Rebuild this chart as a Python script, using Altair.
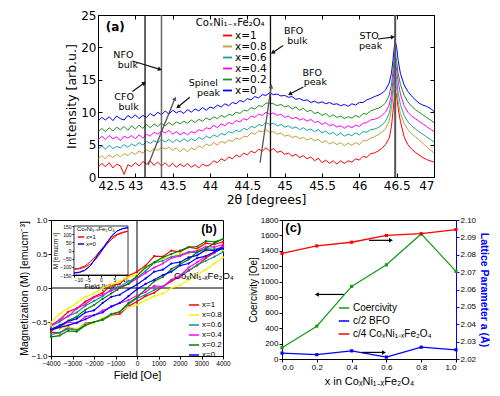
import math
import altair as alt
import pandas as pd

# ======================= panel (a): XRD =======================
SAMPLES = ["x=1", "x=0.8", "x=0.6", "x=0.4", "x=0.2", "x=0"]
XRD_COLORS = ["#ff0000", "#c49c3c", "#17a3a3", "#ff00ff", "#1f8f1f", "#0000ff"]

TWO_THETA = [round(42.5 + 0.05 * i, 2) for i in range(75)] + [
    46.25, 46.30, 46.35, 46.40, 46.43, 46.45, 46.47, 46.48, 46.50, 46.52,
    46.55, 46.60, 46.65, 46.70, 46.75, 46.80, 46.85, 46.90, 46.95, 47.00]

I_X1 = [1.5, 2.1, 1.6, 2.2, 1.4, 2.0, 1.7, 0.4, 1.9, 1.6,
        2.2, 1.7, 2.4, 2.0, 2.5, 1.8, 2.3, 1.7, 2.2, 1.6,
        2.1, 1.5, 2.0, 1.6, 2.1, 1.5, 1.9, 1.4, 2.0, 1.7,
        1.9, 2.5, 2.2, 2.8, 2.5, 3.1, 2.8, 3.4, 3.1, 3.7,
        3.4, 4.0, 3.7, 4.3, 4.0, 4.5, 4.0, 4.4, 3.8, 4.0,
        3.5, 3.7, 3.2, 3.5, 3.0, 3.3, 2.8, 3.1, 2.5, 2.9,
        2.2, 2.6, 2.1, 2.5, 2.0, 2.5, 2.1, 2.5, 2.3, 2.8,
        2.6, 3.2, 3.0, 3.6, 3.7,
        4.0, 4.4, 5.0, 6.0, 7.8, 10.0, 12.3, 13.2, 12.6, 10.6,
        8.6, 6.2, 5.0, 4.3, 3.8, 3.4, 3.0, 2.7, 2.5, 2.3]
I_X08 = [2.7, 3.3, 2.8, 3.4, 3.0, 3.5, 3.1, 3.6, 3.3, 3.8,
         3.5, 4.0, 3.7, 4.2, 3.9, 4.4, 4.1, 4.6, 4.3, 4.6,
         4.1, 4.5, 3.9, 4.4, 3.9, 4.5, 4.2, 4.8, 4.5, 5.1,
         4.8, 5.3, 4.9, 5.5, 5.2, 5.7, 5.5, 6.0, 5.8, 6.3,
         6.2, 6.8, 6.6, 7.1, 7.0, 7.3, 6.9, 7.0, 6.6, 6.8,
         6.3, 6.5, 6.1, 6.3, 5.9, 6.1, 5.7, 6.0, 5.6, 5.8,
         5.3, 5.6, 5.1, 5.4, 5.0, 5.3, 4.8, 5.2, 4.9, 5.3,
         5.0, 5.6, 5.6, 6.0, 6.2,
         6.5, 6.9, 7.4, 8.6, 10.4, 12.4, 14.6, 15.2, 13.6, 11.6,
         9.8, 8.3, 7.3, 6.7, 6.2, 5.7, 5.2, 4.7, 4.2, 3.7]
I_X06 = [4.2, 4.8, 4.3, 4.9, 4.4, 4.7, 4.5, 5.0, 4.6, 5.1,
         4.8, 5.3, 4.9, 5.5, 5.2, 5.6, 5.3, 5.8, 5.4, 5.8,
         5.3, 5.8, 5.4, 5.9, 5.5, 5.9, 5.6, 6.1, 5.8, 6.3,
         6.0, 6.5, 6.2, 6.7, 6.5, 7.0, 6.8, 7.2, 7.0, 7.5,
         7.3, 7.8, 7.6, 8.1, 7.9, 8.4, 8.1, 8.3, 7.9, 8.1,
         7.7, 7.9, 7.5, 7.7, 7.3, 7.6, 7.2, 7.4, 7.0, 7.3,
         6.8, 7.1, 6.6, 6.9, 6.4, 6.8, 6.3, 6.6, 6.4, 6.8,
         6.5, 7.0, 6.9, 7.3, 7.4,
         7.6, 8.0, 8.6, 9.8, 11.6, 13.5, 15.9, 16.5, 15.0, 13.0,
         11.2, 9.5, 8.5, 7.9, 7.4, 7.0, 6.6, 6.2, 5.8, 5.4]
I_X04 = [5.7, 6.3, 5.8, 6.4, 5.9, 6.2, 5.6, 6.3, 6.0, 6.4,
         5.9, 6.5, 6.0, 6.6, 6.3, 6.9, 6.6, 7.1, 6.8, 7.2,
         6.6, 7.0, 6.5, 6.9, 6.5, 7.0, 6.8, 7.3, 7.1, 7.6,
         7.4, 8.0, 7.6, 8.2, 7.9, 8.4, 8.2, 8.7, 8.5, 9.0,
         8.8, 9.4, 9.2, 9.7, 9.5, 10.0, 9.7, 9.9, 9.5, 9.7,
         9.2, 9.4, 9.0, 9.2, 8.8, 9.0, 8.6, 8.9, 8.4, 8.6,
         8.1, 8.4, 7.9, 8.1, 7.7, 7.9, 7.5, 7.9, 7.6, 8.0,
         7.8, 8.3, 8.4, 8.8, 8.9,
         9.1, 9.5, 10.0, 11.1, 12.8, 14.8, 17.2, 17.8, 16.5, 14.8,
         12.8, 11.0, 10.0, 9.4, 9.0, 8.6, 8.2, 7.8, 7.4, 7.0]
I_X02 = [6.9, 7.5, 7.0, 7.6, 7.1, 7.7, 7.3, 7.8, 7.2, 7.9,
         7.4, 8.0, 7.5, 8.1, 7.6, 8.2, 7.8, 8.3, 7.9, 8.4,
         8.0, 8.5, 8.2, 8.6, 8.3, 8.8, 8.4, 8.9, 8.6, 9.1,
         8.8, 9.3, 9.0, 9.5, 9.2, 9.7, 9.5, 10.0, 9.8, 10.3,
         10.2, 10.7, 10.5, 11.0, 10.9, 11.4, 11.4, 11.3, 11.0, 11.2,
         10.8, 11.0, 10.5, 10.8, 10.3, 10.6, 10.1, 10.3, 9.8, 10.0,
         9.5, 9.8, 9.3, 9.6, 9.2, 9.4, 9.0, 9.3, 9.1, 9.5,
         9.2, 9.8, 9.7, 10.2, 10.4,
         10.6, 10.9, 11.4, 12.6, 14.2, 16.2, 18.6, 19.0, 17.8, 16.0,
         14.3, 12.6, 11.6, 10.9, 10.4, 10.0, 9.6, 9.2, 8.8, 8.4]
I_X0 = [8.6, 9.2, 8.8, 9.3, 8.7, 9.4, 9.0, 8.8, 9.5, 9.1,
        9.6, 9.0, 9.5, 9.2, 9.8, 9.4, 10.0, 9.6, 10.2, 9.7,
        10.3, 9.9, 10.2, 9.8, 10.4, 10.0, 10.5, 10.2, 10.7, 10.3,
        10.8, 10.6, 11.1, 10.8, 11.3, 11.0, 11.5, 11.3, 11.8, 11.6,
        12.1, 11.9, 12.4, 12.2, 12.7, 12.6, 13.0, 12.7, 12.8, 12.5,
        12.6, 12.3, 12.4, 12.0, 12.1, 11.8, 11.9, 11.5, 11.7, 11.4,
        11.6, 11.3, 11.5, 11.2, 11.3, 11.0, 11.2, 10.9, 11.3, 11.1,
        11.5, 11.5, 11.9, 12.1, 12.4,
        12.6, 12.9, 13.4, 14.5, 16.0, 18.0, 20.2, 21.0, 20.0, 18.0,
        16.0, 14.2, 13.2, 12.5, 11.9, 11.4, 11.1, 10.9, 10.6, 10.1]
XRD = [I_X1, I_X08, I_X06, I_X04, I_X02, I_X0]
for s in XRD:
    assert len(s) == len(TWO_THETA)

XA_TICKS = [42.5, 43, 43.5, 44, 44.5, 45, 45.5, 46, 46.5, 47]
YA_TICKS = [0, 5, 10, 15, 20, 25]
XA_DOMAIN = [42.5, 47]
YA_DOMAIN = [0, 25]

VLINE_DARK = [43.13, 44.81]
VLINE_GRAY = [43.35]
VLINE_STO = [46.48]

ARR_A_X1 = [42.96, 42.96, 43.73, 44.98, 45.25, 46.25]
ARR_A_Y1 = [17.9, 13.2, 12.3, 20.3, 13.9, 21.3]
ARR_A_X2 = [43.33, 43.12, 43.57, 44.84, 45.07, 46.45]
ARR_A_Y2 = [16.6, 14.5, 10.8, 19.2, 12.8, 21.6]
SHIFT_X1 = [43.17, 44.67]
SHIFT_Y1 = [1.8, 2.2]
SHIFT_X2 = [43.53, 44.82]
SHIFT_Y2 = [12.1, 14.0]

TEXT_A = ["NFO", "bulk", "CFO", "bulk", "Spinel", "peak", "BFO", "bulk", "BFO", "peak", "STO", "peak"]
TEXT_A_X = [42.84, 42.90, 42.85, 42.91, 43.91, 43.98, 45.12, 45.17, 45.37, 45.41, 46.13, 46.15]
TEXT_A_Y = [18.9, 17.3, 12.4, 10.8, 14.45, 12.97, 22.5, 21.0, 16.07, 14.6, 21.75, 20.27]

FORMULA = "CoₓNi₁₋ₓFe₂O₄"

# ======================= panel (b): M-H loops =======================
FIELD_UP = [4000 - 400 * i for i in range(21)]
FIELD_LOW = [-4000 + 400 * i for i in range(21)]
MAG_COLORS = ["#ff0000", "#f2f200", "#0f8f8f", "#ff00ff", "#008000", "#0000ff"]
M_UPPER = [
    [0.68, 0.64, 0.66, 0.58, 0.60, 0.53, 0.55, 0.46, 0.47, 0.33, 0.24, 0.18, 0.06, 0.04, -0.07, -0.13, -0.20, -0.30, -0.35, -0.47, -0.55],
    [0.55, 0.58, 0.53, 0.56, 0.50, 0.51, 0.45, 0.44, 0.36, 0.30, 0.20, 0.16, 0.10, 0.05, 0.00, -0.08, -0.13, -0.22, -0.30, -0.38, -0.50],
    [0.60, 0.57, 0.58, 0.52, 0.53, 0.48, 0.46, 0.40, 0.37, 0.25, 0.15, 0.10, 0.02, -0.02, -0.12, -0.19, -0.26, -0.36, -0.41, -0.50, -0.56],
    [0.64, 0.60, 0.61, 0.55, 0.52, 0.47, 0.44, 0.36, 0.30, 0.22, 0.14, 0.06, 0.01, -0.04, -0.10, -0.14, -0.24, -0.30, -0.42, -0.47, -0.55],
    [0.72, 0.68, 0.69, 0.61, 0.60, 0.55, 0.50, 0.45, 0.38, 0.30, 0.18, 0.06, 0.00, -0.08, -0.16, -0.25, -0.32, -0.42, -0.48, -0.57, -0.63],
    [0.60, 0.55, 0.56, 0.48, 0.45, 0.38, 0.36, 0.27, 0.24, 0.14, 0.05, -0.02, -0.10, -0.13, -0.22, -0.33, -0.36, -0.45, -0.49, -0.55, -0.61],
]
M_LOWER = [
    [-0.65, -0.66, -0.58, -0.61, -0.52, -0.50, -0.47, -0.40, -0.38, -0.27, -0.20, -0.12, -0.07, 0.02, 0.10, 0.17, 0.26, 0.33, 0.44, 0.52, 0.62],
    [-0.55, -0.60, -0.57, -0.60, -0.53, -0.52, -0.44, -0.40, -0.35, -0.28, -0.25, -0.18, -0.12, -0.08, 0.00, 0.04, 0.12, 0.20, 0.27, 0.36, 0.45],
    [-0.68, -0.66, -0.60, -0.62, -0.54, -0.50, -0.47, -0.38, -0.35, -0.24, -0.15, -0.10, -0.03, 0.02, 0.12, 0.18, 0.25, 0.34, 0.40, 0.46, 0.53],
    [-0.60, -0.57, -0.50, -0.52, -0.42, -0.40, -0.33, -0.28, -0.22, -0.18, -0.11, -0.06, 0.03, 0.02, 0.12, 0.18, 0.30, 0.38, 0.47, 0.52, 0.60],
    [-0.72, -0.70, -0.63, -0.64, -0.55, -0.50, -0.46, -0.39, -0.35, -0.22, -0.14, -0.02, 0.10, 0.16, 0.28, 0.35, 0.42, 0.53, 0.58, 0.66, 0.72],
    [-0.61, -0.58, -0.55, -0.51, -0.46, -0.40, -0.36, -0.27, -0.22, -0.12, -0.02, 0.06, 0.12, 0.19, 0.24, 0.33, 0.36, 0.44, 0.47, 0.53, 0.58],
]
XB_TICKS = [-4000, -3000, -2000, -1000, 0, 1000, 2000, 3000, 4000]
YB_TICKS = [-1.0, -0.5, 0.0, 0.5, 1.0]
XB_DOMAIN = [-4000, 4000]
YB_DOMAIN = [-1.0, 1.0]
ZERO = [0]

INSET_SAMPLES = ["x=1", "x=0"]
INSET_COLORS = ["#ff0000", "#0000ff"]
INSET_H_UP = [10, 8, 6, 4, 2, 1, 0, -1, -2, -4, -6, -8, -10]
INSET_H_LOW = [-10, -8, -6, -4, -2, -1, 0, 1, 2, 4, 6, 8, 10]
INSET_UP = [[118, 112, 100, 80, 45, 22, 5, -15, -35, -70, -95, -108, -115],
            [140, 135, 120, 90, 40, 15, -5, -25, -50, -95, -120, -132, -138]]
INSET_LOW = [[-115, -112, -102, -85, -55, -35, -10, 15, 35, 70, 95, 108, 118],
             [-138, -135, -122, -95, -45, -20, 2, 22, 45, 90, 120, 132, 140]]
INSET_XDOM = [-10, 10]
INSET_YDOM = [-150, 150]
INSET_XTICKS = [-10, -5, 0, 5, 10]
INSET_YTICKS = [-150, -100, -50, 0, 50, 100, 150]

# ======================= panel (c) =======================
X_COMP = [0.0, 0.2, 0.4, 0.6, 0.8, 1.0]
COERCIVITY = [145, 425, 940, 1220, 1620, 1135]
C2_BFO = [2.0234, 2.0225, 2.0247, 2.0211, 2.0268, 2.0253]
C4_CNFO = [2.0808, 2.0851, 2.0872, 2.0911, 2.0921, 2.0945]
C_SERIES = ["Coercivity", "c/2 BFO", "c/4 " + FORMULA]
C_COLORS = ["#1a9a1a", "#0000ff", "#ff0000"]
XC_TICKS = [0.0, 0.2, 0.4, 0.6, 0.8, 1.0]
YC_TICKS = [0, 200, 400, 600, 800, 1000, 1200, 1400, 1600, 1800]
YR_TICKS = [2.02, 2.03, 2.04, 2.05, 2.06, 2.07, 2.08, 2.09, 2.10]
ARR_CL_X1, ARR_CL_X2, ARR_CL_Y = [0.355], [0.20], [836]
ARR_CR_X1 = [0.50, 0.46]
ARR_CR_X2 = [0.626, 0.586]
ARR_CR_Y = [2.0883, 2.0238]

# ======================= layout sizes =======================
W_A, H_A = 336, 162
W_B, H_B = 172, 136
W_C, H_C = 174, 139
SPACER_W = 47

FA = "DejaVu Sans"
FB = "Liberation Sans"
INWARD = {"expr": "-4"}


def head_angle(x1, y1, x2, y2, sx, sy):
    dx = (x2 - x1) * sx
    dy = (y2 - y1) * sy
    return math.degrees(math.atan2(dx, dy)) % 360


def text_layer(xs_list, ys_list, texts, xs, ys, ax=None, ay=None, **kw):
    return alt.Chart(pd.DataFrame({"x": xs_list, "y": ys_list, "t": texts})).mark_text(**kw).encode(
        x=alt.X("x:Q", scale=xs, axis=ax), y=alt.Y("y:Q", scale=ys, axis=ay), text="t:N")


def arrow_layers(df, color, xs, ys, ax=None, ay=None, width=1.2, size=22):
    seg = alt.Chart(df).mark_rule(color=color, strokeWidth=width).encode(
        x=alt.X("x1:Q", scale=xs, axis=ax), y=alt.Y("y1:Q", scale=ys, axis=ay),
        x2="x2:Q", y2="y2:Q")
    head = alt.Chart(df).mark_point(shape="triangle-up", filled=True, opacity=1, color=color, size=size).encode(
        x=alt.X("x2:Q", scale=xs, axis=ax), y=alt.Y("y2:Q", scale=ys, axis=ay),
        angle=alt.Angle("ang:Q", scale=None))
    return [seg, head]


# ----------------------- build (a) -----------------------
rows = []
for name, vals in zip(SAMPLES, XRD):
    for t, v in zip(TWO_THETA, vals):
        rows.append({"tt": t, "I": v, "sample": name})
df_a = pd.DataFrame(rows)

xs_a = alt.Scale(domain=XA_DOMAIN, nice=False, zero=False)
ys_a = alt.Scale(domain=YA_DOMAIN, nice=False)

lines_a = alt.Chart(df_a).mark_line(strokeWidth=1).encode(
    x=alt.X("tt:Q", scale=xs_a, axis=alt.Axis(
        orient="bottom", values=XA_TICKS, format="~f", title="2θ [degrees]",
        tickSize=INWARD, labelPadding=7, labelFont=FA, labelFontSize=12,
        titleFont=FA, titleFontSize=12.5, titlePadding=2)),
    y=alt.Y("I:Q", scale=ys_a, axis=alt.Axis(
        orient="left", values=YA_TICKS, title="Intensity [arb.u.]",
        tickSize=INWARD, labelPadding=6, labelFont=FA, labelFontSize=12,
        titleFont=FA, titleFontSize=12.5, titlePadding=2)),
    color=alt.Color("sample:N", sort=SAMPLES,
                    scale=alt.Scale(domain=SAMPLES, range=XRD_COLORS),
                    legend=alt.Legend(orient="none", legendX=124, legendY=15, title=None,
                                      symbolType="stroke", symbolStrokeWidth=1.8, symbolSize=81,
                                      labelFont=FA, labelFontSize=10.5, rowPadding=0,
                                      labelOffset=2)),
)

vd = alt.Chart(pd.DataFrame({"x": VLINE_DARK})).mark_rule(color="#111111", strokeWidth=1.3).encode(
    x=alt.X("x:Q", scale=xs_a, axis=alt.Axis(orient="top", values=XA_TICKS, labels=False,
                                             title=None, tickSize=INWARD)))
vg = alt.Chart(pd.DataFrame({"x": VLINE_GRAY})).mark_rule(color="#666666", strokeWidth=1.5).encode(
    x=alt.X("x:Q", scale=xs_a, axis=None))
vs = alt.Chart(pd.DataFrame({"x": VLINE_STO})).mark_rule(color="#555555", strokeWidth=2).encode(
    x=alt.X("x:Q", scale=xs_a, axis=None))

sx_a, sy_a = W_A / (XA_DOMAIN[1] - XA_DOMAIN[0]), H_A / (YA_DOMAIN[1] - YA_DOMAIN[0])
df_arr = pd.DataFrame({"x1": ARR_A_X1, "y1": ARR_A_Y1, "x2": ARR_A_X2, "y2": ARR_A_Y2})
df_arr["ang"] = [head_angle(a, b, c, d, sx_a, sy_a) for a, b, c, d in zip(ARR_A_X1, ARR_A_Y1, ARR_A_X2, ARR_A_Y2)]
df_sh = pd.DataFrame({"x1": SHIFT_X1, "y1": SHIFT_Y1, "x2": SHIFT_X2, "y2": SHIFT_Y2})
df_sh["ang"] = [head_angle(a, b, c, d, sx_a, sy_a) for a, b, c, d in zip(SHIFT_X1, SHIFT_Y1, SHIFT_X2, SHIFT_Y2)]

txt_a = alt.Chart(pd.DataFrame({"x": TEXT_A_X, "y": TEXT_A_Y, "t": TEXT_A})).mark_text(
    font=FA, fontSize=9.5, color="black").encode(
    x=alt.X("x:Q", scale=xs_a, axis=None),
    y=alt.Y("y:Q", scale=ys_a, axis=alt.Axis(orient="right", values=YA_TICKS, labels=False,
                                             title=None, tickSize=INWARD)),
    text="t:N")
lab_a = text_layer([42.73], [23.2], ["(a)"], xs_a, ys_a, font=FA, fontSize=12, fontWeight="bold", color="black")
leg_title_a = text_layer([44.27], [23.8], [FORMULA], xs_a, ys_a, font=FA, fontSize=10, color="black")

chart_a = alt.layer(
    lines_a, vd, vg, vs,
    *arrow_layers(df_arr, "#111111", xs_a, ys_a),
    *arrow_layers(df_sh, "#555555", xs_a, ys_a, width=1.3),
    txt_a, lab_a, leg_title_a,
).resolve_axis(x="independent", y="independent").properties(width=W_A, height=H_A)

spacer = alt.Chart(pd.DataFrame({"s": ZERO})).mark_point(opacity=0).encode(
    x=alt.X("s:Q", axis=None), y=alt.Y("s:Q", axis=None)
).properties(width=SPACER_W, height=H_A, view=alt.ViewBackground(stroke="transparent"))

# ----------------------- build (b) -----------------------
rows = []
for name, up, low in zip(SAMPLES, M_UPPER, M_LOWER):
    k = 0
    for h, m in zip(FIELD_UP, up):
        rows.append({"H": h, "M": m, "sample_b": name, "idx": k}); k += 1
    for h, m in zip(FIELD_LOW, low):
        rows.append({"H": h, "M": m, "sample_b": name, "idx": k}); k += 1
df_b = pd.DataFrame(rows)

xs_b = alt.Scale(domain=XB_DOMAIN, nice=False, zero=False)
ys_b = alt.Scale(domain=YB_DOMAIN, nice=False)
ax_b = alt.Axis(orient="bottom", values=XB_TICKS, format="d", title="Field [Oe]", tickSize=3, labelPadding=1,
                labelOverlap=False, labelFlush=False, labelFont=FB, labelFontSize=6.5, titleFont=FB,
                titleFontSize=11, titlePadding=3)
ay_b = alt.Axis(orient="left", values=YB_TICKS, format=".1f", title="Magnetization (M) [emucm⁻³]",
                tickSize=3, labelPadding=1, labelFont=FB, labelFontSize=8, titleFont=FB,
                titleFontSize=10.5, titlePadding=2)

zero_h = alt.Chart(pd.DataFrame({"m": ZERO})).mark_rule(color="black", strokeWidth=1).encode(
    y=alt.Y("m:Q", scale=ys_b, axis=ay_b))
zero_v = alt.Chart(pd.DataFrame({"h": ZERO})).mark_rule(color="black", strokeWidth=1).encode(
    x=alt.X("h:Q", scale=xs_b, axis=ax_b))
loops = alt.Chart(df_b).mark_line(strokeWidth=1.2, point=alt.OverlayMarkDef(filled=True, size=5)).encode(
    x=alt.X("H:Q", scale=xs_b, axis=ax_b),
    y=alt.Y("M:Q", scale=ys_b, axis=ay_b),
    color=alt.Color("sample_b:N", sort=SAMPLES, scale=alt.Scale(domain=SAMPLES, range=MAG_COLORS),
                    legend=alt.Legend(orient="none", legendX=137, legendY=79, title=None,
                                      symbolType="stroke", symbolStrokeWidth=1.5, symbolSize=100,
                                      labelFont=FB, labelFontSize=8, rowPadding=0, labelOffset=2)),
    order=alt.Order("idx:Q"),
)
lab_b = text_layer([3350], [0.87], ["(b)"], xs_b, ys_b, ax_b, ay_b, font=FB, fontSize=12, fontWeight="bold", color="black")
leg_title_b = text_layer([3110], [0.17], [FORMULA], xs_b, ys_b, ax_b, ay_b, font=FB, fontSize=9.5, color="black")
main_b = alt.layer(zero_h, zero_v, loops, lab_b, leg_title_b)

rows = []
for name, up, low in zip(INSET_SAMPLES, INSET_UP, INSET_LOW):
    k = 0
    for h, m in zip(INSET_H_UP, up):
        rows.append({"h": h, "m": m, "inset_sample": name, "idx": k}); k += 1
    for h, m in zip(INSET_H_LOW, low):
        rows.append({"h": h, "m": m, "inset_sample": name, "idx": k}); k += 1
df_in = pd.DataFrame(rows)
xs_in = alt.Scale(domain=INSET_XDOM, nice=False, zero=False, range=[23, 77])
ys_in = alt.Scale(domain=INSET_YDOM, nice=False, range=[55, 6])
ax_in = alt.Axis(orient="bottom", offset=55 - H_B, values=INSET_XTICKS, title="Field [kOe]",
                 tickSize=2, labelPadding=0, labelFont=FB, labelFontSize=5, titleFont=FB,
                 titleFontSize=7, titlePadding=0)
ay_in = alt.Axis(orient="left", offset=-23, values=INSET_YTICKS, title="M [emucm⁻³]",
                 tickSize=2, labelPadding=1, labelFont=FB, labelFontSize=5, titleFont=FB,
                 titleFontSize=6.5, titlePadding=1)
inset_box = alt.Chart(pd.DataFrame({"x1": [INSET_XDOM[0]], "x2": [INSET_XDOM[1]],
                                    "y1": [INSET_YDOM[0]], "y2": [INSET_YDOM[1]]})).mark_rect(
    fill="white", stroke="black", strokeWidth=0.8).encode(
    x=alt.X("x1:Q", scale=xs_in, axis=ax_in), x2="x2:Q",
    y=alt.Y("y1:Q", scale=ys_in, axis=ay_in), y2="y2:Q")
inset_lines = alt.Chart(df_in).mark_line(strokeWidth=1).encode(
    x=alt.X("h:Q", scale=xs_in, axis=ax_in),
    y=alt.Y("m:Q", scale=ys_in, axis=ay_in),
    color=alt.Color("inset_sample:N", sort=INSET_SAMPLES,
                    scale=alt.Scale(domain=INSET_SAMPLES, range=INSET_COLORS),
                    legend=alt.Legend(orient="none", legendX=26, legendY=6, title=FORMULA,
                                      titleFont=FB, titleFontSize=6, titleFontWeight="normal",
                                      titlePadding=1, symbolType="stroke", symbolSize=40,
                                      labelFont=FB, labelFontSize=6, rowPadding=0, labelOffset=1)),
    order=alt.Order("idx:Q"),
)
inset_b = alt.layer(inset_box, inset_lines)
chart_b = alt.layer(main_b, inset_b).resolve_scale(
    x="independent", y="independent", color="independent").properties(width=W_B, height=H_B)

# ----------------------- build (c) -----------------------
df_coer = pd.DataFrame({"xc": X_COMP, "v": COERCIVITY, "series": C_SERIES[0]})
df_lat = pd.DataFrame({"xc": X_COMP * 2, "v": C2_BFO + C4_CNFO,
                       "series": [C_SERIES[1]] * len(X_COMP) + [C_SERIES[2]] * len(X_COMP)})
xs_c = alt.Scale(domain=[0, 1], nice=False, zero=False)
yl_c = alt.Scale(domain=[0, 1800], nice=False)
yr_c = alt.Scale(domain=[2.02, 2.10], nice=False, zero=False)
ax_c = alt.Axis(orient="bottom", values=XC_TICKS, format=".1f", title="x in " + FORMULA, tickSize=3,
                labelPadding=1, labelFont=FB, labelFontSize=8, titleFont=FB, titleFontSize=11, titlePadding=4)
ayl_c = alt.Axis(orient="left", values=YC_TICKS, format="d", title="Coercivity [Oe]", tickSize=3, labelPadding=1,
                 labelOverlap=False, labelFont=FB, labelFontSize=8, titleFont=FB, titleFontSize=10, titlePadding=2)
ayr_c = alt.Axis(orient="right", values=YR_TICKS, format=".2f", title="Lattice Parameter a (Å)",
                 tickSize=3, labelPadding=1, labelOverlap=False, labelFont=FB, labelFontSize=8,
                 domainColor="#0000ff", tickColor="#0000ff", titleColor="#0000ff", titleFont=FB,
                 titleFontSize=10.5, titleFontWeight="bold", titlePadding=3)
color_c = alt.Color("series:N", sort=C_SERIES, scale=alt.Scale(domain=C_SERIES, range=C_COLORS),
                    legend=alt.Legend(orient="none", legendX=56, legendY=82, title=None,
                                      symbolType="stroke", symbolStrokeWidth=1.5, symbolSize=110,
                                      labelFont=FB, labelFontSize=10, rowPadding=2, labelOffset=3))
coer = alt.Chart(df_coer).mark_line(strokeWidth=1.3, point=alt.OverlayMarkDef(shape="square", filled=True, size=10)).encode(
    x=alt.X("xc:Q", scale=xs_c, axis=ax_c),
    y=alt.Y("v:Q", scale=yl_c, axis=ayl_c),
    color=color_c)
sx_c, sy_cl, sy_cr = W_C / 1.0, H_C / 1800, H_C / 0.08
df_cl = pd.DataFrame({"x1": ARR_CL_X1, "x2": ARR_CL_X2, "y1": ARR_CL_Y, "y2": ARR_CL_Y})
df_cl["ang"] = [head_angle(a, b, c, d, sx_c, sy_cl) for a, b, c, d in zip(df_cl.x1, df_cl.y1, df_cl.x2, df_cl.y2)]
df_cr = pd.DataFrame({"x1": ARR_CR_X1, "x2": ARR_CR_X2, "y1": ARR_CR_Y, "y2": ARR_CR_Y})
df_cr["ang"] = [head_angle(a, b, c, d, sx_c, sy_cr) for a, b, c, d in zip(df_cr.x1, df_cr.y1, df_cr.x2, df_cr.y2)]
lab_c = text_layer([0.065], [1690], ["(c)"], xs_c, yl_c, ax_c, ayl_c, font=FB, fontSize=13, fontWeight="bold", color="black")
left_c = alt.layer(coer, *arrow_layers(df_cl, "black", xs_c, yl_c, ax_c, ayl_c, width=1.2, size=20), lab_c)

lat = alt.Chart(df_lat).mark_line(strokeWidth=1.3, point=alt.OverlayMarkDef(shape="square", filled=True, size=10)).encode(
    x=alt.X("xc:Q", scale=xs_c, axis=ax_c),
    y=alt.Y("v:Q", scale=yr_c, axis=ayr_c),
    color=color_c)
right_c = alt.layer(lat, *arrow_layers(df_cr, "black", xs_c, yr_c, ax_c, ayr_c, width=1.2, size=20))
chart_c = alt.layer(left_c, right_c).resolve_scale(y="independent").properties(width=W_C, height=H_C)

# ----------------------- assemble -----------------------
top = alt.hconcat(spacer, chart_a, spacing=0, bounds="flush").resolve_scale(color="independent")
bottom = alt.hconcat(chart_b, chart_c, spacing=59, bounds="flush").resolve_scale(color="independent")
chart = alt.vconcat(top, bottom, spacing=9, bounds="full").resolve_scale(
    color="independent"
).properties(
    padding={"left": 10, "top": 0, "right": 0, "bottom": 0}
).configure_view(stroke="black", strokeWidth=1).configure_axis(
    grid=False, domainColor="black", tickColor="black", labelColor="black",
    titleColor="black", titleFontWeight="normal")

chart.save("out.html", embed_options={"renderer": "svg", "actions": False})
